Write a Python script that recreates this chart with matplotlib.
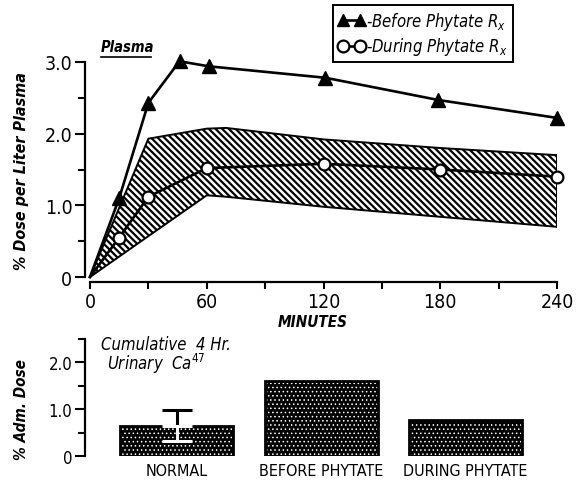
import matplotlib
matplotlib.use('Agg')
import matplotlib.pyplot as plt
from matplotlib.lines import Line2D

plt.rcParams['font.family'] = ['DejaVu Sans']
plt.rcParams['font.stretch'] = 'condensed'

# plasma curves (minutes, % dose per liter plasma)
before_t = [0, 15, 30, 46, 61, 121, 179, 240]
before_v = [0, 1.10, 2.43, 3.01, 2.94, 2.78, 2.47, 2.22]
during_t = [0, 15, 30, 60, 120, 180, 240]
during_v = [0, 0.55, 1.12, 1.52, 1.58, 1.50, 1.40]

# shaded range for the during-phytate curve
band_t = [0, 30, 60, 70, 120, 180, 240]
band_hi = [0, 1.93, 2.07, 2.08, 1.92, 1.80, 1.70]
band_lo = [0, 0.57, 1.14, 1.12, 0.98, 0.84, 0.70]

# cumulative 4 hr urinary Ca47
groups = ['NORMAL', 'BEFORE PHYTATE', 'DURING PHYTATE']
urinary = [0.65, 1.60, 0.78]
normal_err = 0.33

fig = plt.figure(figsize=(5.77, 4.85), dpi=100)

# ---- top panel ----
ax = fig.add_axes([90/577, 207/485, 467/577, 215/485])
with plt.rc_context({'hatch.linewidth': 1.6}):
    ax.fill_between(band_t, band_lo, band_hi, facecolor='white', edgecolor='black',
                    hatch='\\\\\\\\\\', linewidth=1.4, zorder=1)
ax.plot([band_t[-1], band_t[-1]], [band_lo[-1], band_hi[-1]], color='black', lw=1.4, zorder=1)
ax.plot(before_t, before_v, color='black', lw=1.9, marker='^', ms=9.5,
        markevery=list(range(1, len(before_t))), clip_on=False, zorder=3)
ax.plot(during_t, during_v, color='black', lw=1.9, marker='o', ms=8.5, mfc='white',
        mec='black', mew=1.6, markevery=list(range(1, len(during_t))), clip_on=False, zorder=3)

ax.set_xlim(0, 240)
ax.set_ylim(0, 3.0)
ax.set_xticks([0, 60, 120, 180, 240])
ax.set_xticks([30, 90, 150, 210], minor=True)
ax.set_yticks([0, 1, 2, 3])
ax.set_yticklabels(['0', '1.0', '2.0', '3.0'])
ax.set_yticks([0.5, 1.5, 2.5], minor=True)
for s in ['top', 'right']:
    ax.spines[s].set_visible(False)
ax.spines['left'].set_position(('outward', 3.6))
ax.spines['bottom'].set_position(('outward', 3.6))
for s in ['left', 'bottom']:
    ax.spines[s].set_linewidth(1.6)
ax.tick_params(axis='both', which='both', width=1.5, labelsize=14, pad=2)
ax.tick_params(axis='y', which='major', length=7)
ax.tick_params(axis='y', which='minor', length=5)
ax.tick_params(axis='x', which='both', length=5)

ax.text(114.5, -0.62, 'MINUTES', ha='center', va='center', fontsize=11,
        style='italic', weight='bold')
fig.text(22/577, 1 - 171/485, '% Dose per Liter Plasma', rotation=90, ha='center',
         va='center', fontsize=11.5, style='italic', weight='bold')
ax.text(19, 3.22, 'Plasma', ha='center', va='center', fontsize=10.5, style='italic',
        weight='bold')
ax.plot([5.5, 31.5], [3.07, 3.07], color='black', lw=1.2, clip_on=False)

handles = [Line2D([], [], color='black', lw=1.9, marker='^', ms=9),
           Line2D([], [], color='black', lw=1.9, marker='o', ms=8.5, mfc='white', mew=1.6)]
labels = ['-Before Phytate $R_x$', '-During Phytate $R_x$']
leg = ax.legend(handles, labels, loc='upper left', bbox_to_anchor=(333/577, 1 - 6/485),
                bbox_transform=fig.transFigure, frameon=True, fancybox=False,
                edgecolor='black', framealpha=1, numpoints=2, handlelength=1.6,
                handletextpad=0.1, borderpad=0.3, labelspacing=0.2, borderaxespad=0,
                prop={'size': 12, 'style': 'italic', 'stretch': 'condensed'})
leg.get_frame().set_linewidth(1.4)

# ---- bottom panel ----
bx = fig.add_axes([90/577, 27.7/485, 467/577, 117.3/485])
pos = list(range(len(groups)))
with plt.rc_context({'hatch.linewidth': 0.6}):
    bx.bar(pos, urinary, width=0.78, color='black', edgecolor='white', hatch='....',
           linewidth=0, zorder=2)
bx.bar(pos, urinary, width=0.78, fill=False, edgecolor='black', linewidth=2, zorder=3)
bx.errorbar([0], [urinary[0]], yerr=[[0], [normal_err]], color='black', lw=2.2,
            capsize=11, capthick=2.2, zorder=4)
bx.errorbar([0], [urinary[0]], yerr=[[normal_err], [0]], color='white', lw=2.2,
            capsize=11, capthick=2.2, zorder=4)

bx.set_xlim(-0.6, 2.632)
bx.set_ylim(0, 2.5)
bx.set_xticks(pos)
bx.set_xticklabels(groups)
bx.set_yticks([0, 1, 2])
bx.set_yticklabels(['0', '1.0', '2.0'])
bx.set_yticks([0.5, 1.5, 2.5], minor=True)
for s in ['top', 'right', 'bottom']:
    bx.spines[s].set_visible(False)
bx.spines['left'].set_position(('outward', 3.6))
bx.spines['left'].set_linewidth(1.6)
bx.tick_params(axis='y', which='both', width=1.5, labelsize=12, pad=2)
bx.tick_params(axis='y', which='major', length=7)
bx.tick_params(axis='y', which='minor', length=5)
bx.tick_params(axis='x', length=0, labelsize=11.5, pad=5)

fig.text(22/577, 1 - 410/485, '% Adm. Dose', rotation=90, ha='center', va='center',
         fontsize=11, style='italic', weight='bold')
fig.text(101/577, 1 - 345/485, 'Cumulative  4 Hr.', ha='left', va='center',
         fontsize=12, style='italic')
fig.text(107/577, 1 - 364/485, 'Urinary  Ca$^{47}$', ha='left', va='center',
         fontsize=12, style='italic')

fig.savefig('out.png', dpi=100)
